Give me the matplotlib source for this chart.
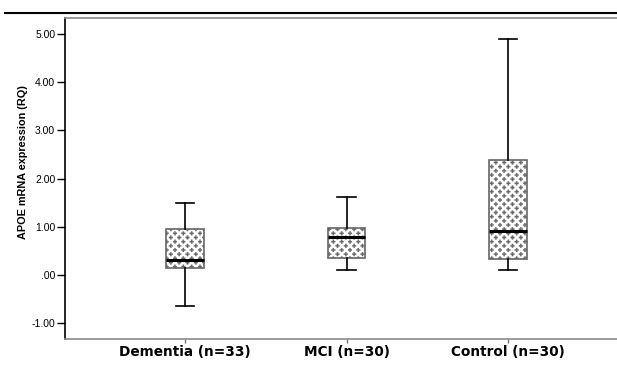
import numpy as np
import matplotlib
matplotlib.use('Agg')
import matplotlib.pyplot as plt
from matplotlib import hatch as mhatch
from matplotlib.path import Path
from matplotlib.lines import Line2D

# values
groups = ['Dementia (n=33)', 'MCI (n=30)', 'Control (n=30)']
whislo = [-0.64, 0.10, 0.10]
q1 = [0.14, 0.35, 0.33]
med = [0.31, 0.79, 0.91]
q3 = [0.95, 0.98, 2.39]
whishi = [1.50, 1.61, 4.90]
yticks = [-1, 0, 1, 2, 3, 4, 5]
yticklabels = ['-1.00', '.00', '1.00', '2.00', '3.00', '4.00', '5.00']


# SPSS style "plus sign" fill: staggered rows of small filled crosses
class PlusHatch(mhatch.HatchPatternBase):
    def __init__(self, hatch, density):
        self.n = hatch.count('*') * density
        a, t = 0.019, 0.0062
        self.shape = np.array([(-t, a), (t, a), (t, t), (a, t), (a, -t), (t, -t),
                               (t, -a), (-t, -a), (-t, -t), (-a, -t), (-a, t),
                               (-t, t), (-t, a)])
        if self.n == 0:
            self.num_vertices = 0
        else:
            nshapes = 0
            for r in range(2 * self.n + 1):
                nshapes += self.n + 1 if r % 2 == 0 else self.n
            self.num_vertices = nshapes * len(self.shape)

    def set_vertices_and_codes(self, vertices, codes):
        n = self.n
        verts = []
        cds = []
        sc = np.full(len(self.shape), Path.LINETO, dtype=Path.code_type)
        sc[0] = Path.MOVETO
        sc[-1] = Path.CLOSEPOLY
        for r in range(2 * n + 1):
            y = r / (2 * n)
            if r % 2 == 0:
                xs = np.arange(n + 1) / n
            else:
                xs = (np.arange(n) + 0.5) / n
            for x in xs:
                verts.append(self.shape + [x, y])
                cds.append(sc)
        np.concatenate(verts, out=vertices)
        np.concatenate(cds, out=codes)


mhatch._hatch_types = [h for h in mhatch._hatch_types if h is not mhatch.Stars] + [PlusHatch]

plt.rcParams['font.family'] = ['Liberation Sans', 'DejaVu Sans']
plt.rcParams['hatch.linewidth'] = 0.2

fig = plt.figure(figsize=(6.17, 3.65), dpi=100)
ax = fig.add_axes([65 / 617, 26 / 365, 563 / 617, 321 / 365])

stats = []
for i in range(len(groups)):
    stats.append({'label': groups[i], 'whislo': whislo[i], 'q1': q1[i],
                  'med': med[i], 'q3': q3[i], 'whishi': whishi[i], 'fliers': []})

bp = ax.bxp(stats, positions=[1, 2, 3], widths=0.23, patch_artist=True,
            showfliers=False,
            boxprops=dict(facecolor='white', edgecolor='#666666', linewidth=1.2, hatch='**'),
            medianprops=dict(color='black', linewidth=2.2),
            whiskerprops=dict(color='black', linewidth=1.2),
            capprops=dict(color='black', linewidth=1.2))

ax.set_xlim(0.257, 3.743)
ax.set_ylim(-1.328, 5.33)
ax.set_yticks(yticks)
ax.set_yticklabels(yticklabels)
ax.tick_params(axis='y', direction='out', length=6, width=1, labelsize=7.5, pad=1,
               colors='black')
ax.tick_params(axis='x', direction='out', length=3, width=1, pad=1.5,
               color='#777777')
for lab in ax.get_xticklabels():
    lab.set_fontweight('bold')
    lab.set_fontfamily('DejaVu Sans')
    lab.set_fontsize(9.8)

ax.spines['left'].set_color('black')
ax.spines['left'].set_linewidth(1.2)
for s in ['top', 'bottom', 'right']:
    ax.spines[s].set_color('#8a8a8a')
    ax.spines[s].set_linewidth(1.2)

fig.text(23 / 617, 1 - 162 / 365, 'APOE mRNA expression (RQ)', rotation=90,
         ha='center', va='center', fontsize=7.8, fontweight='bold')

fig.add_artist(Line2D([5 / 617, 1], [1 - 13 / 365, 1 - 13 / 365],
                      color='black', linewidth=1.5, transform=fig.transFigure))

fig.savefig('out.png', dpi=100)
